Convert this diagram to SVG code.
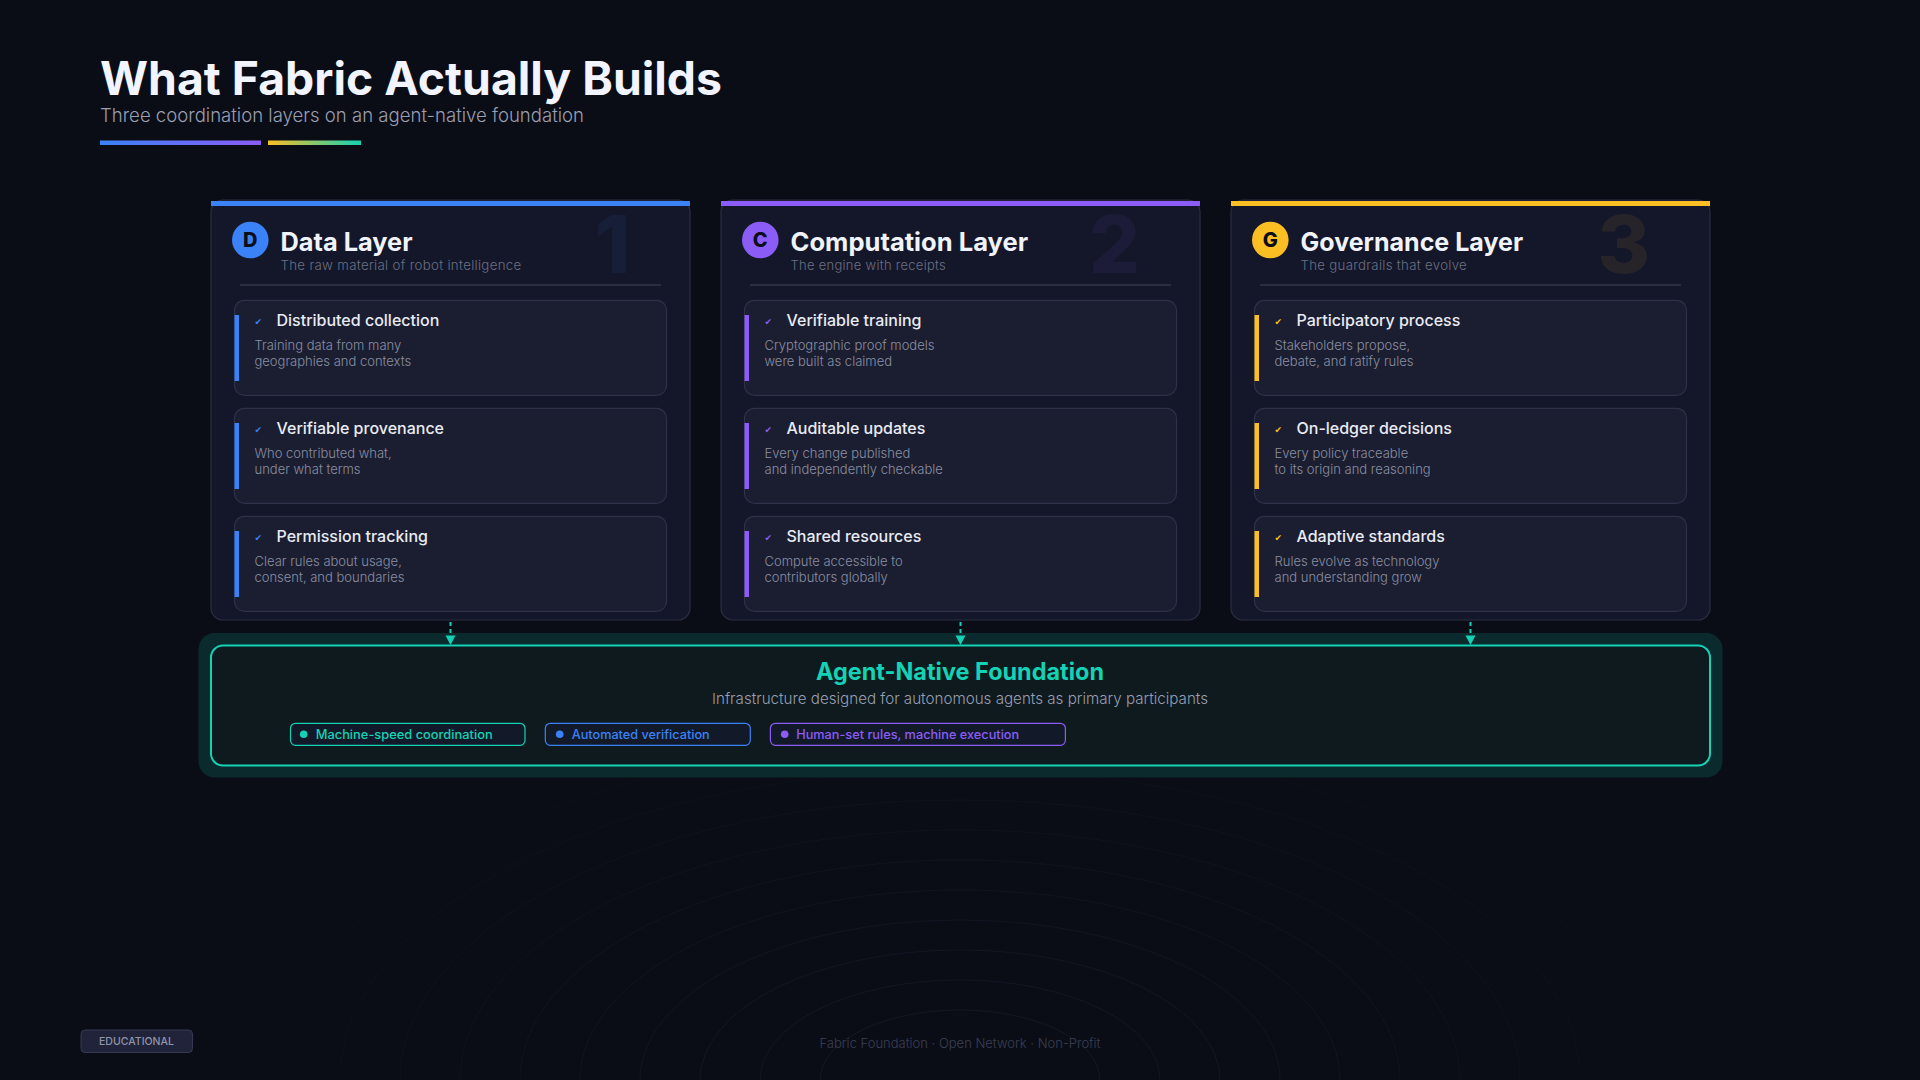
<svg xmlns="http://www.w3.org/2000/svg" width="1920" height="1080" viewBox="0 0 1920 1080">
<defs>
<style>
.f{font-family:Inter,"Liberation Sans",sans-serif}
.card{fill:#141729;stroke:#2a2e42;stroke-width:1.2}
.item{fill:#1b1e31;stroke:#2e3147;stroke-width:1.2}
.ctitle{font-family:Inter,"Liberation Sans",sans-serif;font-weight:700;font-size:25.5px;fill:#f1f3fb}
.csub{font-family:Inter,"Liberation Sans",sans-serif;font-weight:300;font-size:13px;fill:#6b6f84;letter-spacing:0.3px}
.digit{font-family:Inter,"Liberation Sans",sans-serif;font-weight:800;font-size:80px;text-anchor:end}
.letter{font-family:Inter,"Liberation Sans",sans-serif;font-weight:800;font-size:20px;fill:#0b0e18;text-anchor:middle}
.ititle{font-family:Inter,"Liberation Sans",sans-serif;font-weight:500;font-size:16px;fill:#e9ebf3}
.idesc{font-family:Inter,"Liberation Sans",sans-serif;font-weight:300;font-size:13px;fill:#8a8ea2}
.chk{font-family:"DejaVu Sans",sans-serif;font-size:9px;text-anchor:middle}
.div{stroke:#33364a;stroke-width:1.6}
.ring{fill:none;stroke:#151927}
.conn{stroke:#14d2b5;stroke-width:2;stroke-dasharray:4 3;fill:none}
.pilltxt{font-family:Inter,"Liberation Sans",sans-serif;font-weight:500;font-size:12.5px}
</style>
<linearGradient id="g1" x1="0" y1="0" x2="1" y2="0"><stop offset="0" stop-color="#3b82f6"/><stop offset="1" stop-color="#8b5cf6"/></linearGradient>
<linearGradient id="g2" x1="0" y1="0" x2="1" y2="0"><stop offset="0" stop-color="#fbbf24"/><stop offset="1" stop-color="#14d2b5"/></linearGradient>
</defs>
<rect width="1920" height="1080" fill="#0a0d16"/>
<g id="rings">
<ellipse class="ring" cx="960" cy="1080" rx="140" ry="70" stroke-opacity="0.9"/>
<ellipse class="ring" cx="960" cy="1080" rx="200" ry="100" stroke-opacity="0.85"/>
<ellipse class="ring" cx="960" cy="1080" rx="260" ry="130" stroke-opacity="0.8"/>
<ellipse class="ring" cx="960" cy="1080" rx="320" ry="160" stroke-opacity="0.72"/>
<ellipse class="ring" cx="960" cy="1080" rx="380" ry="190" stroke-opacity="0.64"/>
<ellipse class="ring" cx="960" cy="1080" rx="440" ry="220" stroke-opacity="0.55"/>
<ellipse class="ring" cx="960" cy="1080" rx="500" ry="250" stroke-opacity="0.46"/>
<ellipse class="ring" cx="960" cy="1080" rx="560" ry="280" stroke-opacity="0.38"/>
<ellipse class="ring" cx="960" cy="1080" rx="620" ry="310" stroke-opacity="0.3"/>
<ellipse class="ring" cx="960" cy="1080" rx="680" ry="340" stroke-opacity="0.22"/>
<ellipse class="ring" cx="960" cy="1080" rx="740" ry="370" stroke-opacity="0.15"/>
</g>
<g id="header">
<text class="f" x="100" y="94.5" font-size="46" font-weight="700" fill="#f2f4ff" textLength="622" lengthAdjust="spacingAndGlyphs">What Fabric Actually Builds</text>
<text class="f" x="100" y="121.5" font-size="18.5" font-weight="300" fill="#9a9eb2" textLength="484" lengthAdjust="spacingAndGlyphs">Three coordination layers on an agent-native foundation</text>
<rect x="100" y="140.5" width="161" height="4.5" fill="url(#g1)"/>
<rect x="268" y="140.5" width="93" height="4.5" fill="url(#g2)"/>
</g>
<g id="card-data" transform="translate(211,0)">
<rect class="card" x="0" y="200" width="479" height="420" rx="12"/>
<rect x="0" y="201" width="479" height="5" fill="#3b82f6"/>
<text class="digit" x="419" y="273" fill="#3b82f6" fill-opacity="0.08">1</text>
<circle cx="39.3" cy="240" r="18.3" fill="#3b82f6"/>
<text class="letter" x="39.3" y="247">D</text>
<text class="ctitle" x="69.5" y="251" textLength="132" lengthAdjust="spacingAndGlyphs">Data Layer</text>
<text class="csub" x="69.5" y="270" textLength="241" lengthAdjust="spacingAndGlyphs">The raw material of robot intelligence</text>
<line class="div" x1="29" y1="285" x2="450" y2="285"/>
<rect class="item" x="23.5" y="300.3" width="432" height="95" rx="10"/>
<rect x="23.5" y="315" width="4.5" height="66" fill="#3b82f6"/>
<text class="chk" x="47.3" y="324.5" fill="#3b82f6">✔</text>
<text class="ititle" x="65.5" y="326">Distributed collection</text>
<text class="idesc" x="43.5" y="350">Training data from many</text>
<text class="idesc" x="43.5" y="366">geographies and contexts</text>
<rect class="item" x="23.5" y="408.3" width="432" height="95" rx="10"/>
<rect x="23.5" y="423" width="4.5" height="66" fill="#3b82f6"/>
<text class="chk" x="47.3" y="432.5" fill="#3b82f6">✔</text>
<text class="ititle" x="65.5" y="434">Verifiable provenance</text>
<text class="idesc" x="43.5" y="458">Who contributed what,</text>
<text class="idesc" x="43.5" y="474">under what terms</text>
<rect class="item" x="23.5" y="516.3" width="432" height="95" rx="10"/>
<rect x="23.5" y="531" width="4.5" height="66" fill="#3b82f6"/>
<text class="chk" x="47.3" y="540.5" fill="#3b82f6">✔</text>
<text class="ititle" x="65.5" y="542">Permission tracking</text>
<text class="idesc" x="43.5" y="566">Clear rules about usage,</text>
<text class="idesc" x="43.5" y="582">consent, and boundaries</text>
</g>
<g id="card-computation" transform="translate(721,0)">
<rect class="card" x="0" y="200" width="479" height="420" rx="12"/>
<rect x="0" y="201" width="479" height="5" fill="#8b5cf6"/>
<text class="digit" x="419" y="273" fill="#8b5cf6" fill-opacity="0.08">2</text>
<circle cx="39.3" cy="240" r="18.3" fill="#8b5cf6"/>
<text class="letter" x="39.3" y="247">C</text>
<text class="ctitle" x="69.5" y="251" textLength="237.6" lengthAdjust="spacingAndGlyphs">Computation Layer</text>
<text class="csub" x="69.5" y="270" textLength="155.6" lengthAdjust="spacingAndGlyphs">The engine with receipts</text>
<line class="div" x1="29" y1="285" x2="450" y2="285"/>
<rect class="item" x="23.5" y="300.3" width="432" height="95" rx="10"/>
<rect x="23.5" y="315" width="4.5" height="66" fill="#8b5cf6"/>
<text class="chk" x="47.3" y="324.5" fill="#8b5cf6">✔</text>
<text class="ititle" x="65.5" y="326">Verifiable training</text>
<text class="idesc" x="43.5" y="350">Cryptographic proof models</text>
<text class="idesc" x="43.5" y="366">were built as claimed</text>
<rect class="item" x="23.5" y="408.3" width="432" height="95" rx="10"/>
<rect x="23.5" y="423" width="4.5" height="66" fill="#8b5cf6"/>
<text class="chk" x="47.3" y="432.5" fill="#8b5cf6">✔</text>
<text class="ititle" x="65.5" y="434">Auditable updates</text>
<text class="idesc" x="43.5" y="458">Every change published</text>
<text class="idesc" x="43.5" y="474">and independently checkable</text>
<rect class="item" x="23.5" y="516.3" width="432" height="95" rx="10"/>
<rect x="23.5" y="531" width="4.5" height="66" fill="#8b5cf6"/>
<text class="chk" x="47.3" y="540.5" fill="#8b5cf6">✔</text>
<text class="ititle" x="65.5" y="542">Shared resources</text>
<text class="idesc" x="43.5" y="566">Compute accessible to</text>
<text class="idesc" x="43.5" y="582">contributors globally</text>
</g>
<g id="card-governance" transform="translate(1231,0)">
<rect class="card" x="0" y="200" width="479" height="420" rx="12"/>
<rect x="0" y="201" width="479" height="5" fill="#fbbf24"/>
<text class="digit" x="419" y="273" fill="#fbbf24" fill-opacity="0.08">3</text>
<circle cx="39.3" cy="240" r="18.3" fill="#fbbf24"/>
<text class="letter" x="39.3" y="247">G</text>
<text class="ctitle" x="69.5" y="251" textLength="222.6" lengthAdjust="spacingAndGlyphs">Governance Layer</text>
<text class="csub" x="69.5" y="270" textLength="166.6" lengthAdjust="spacingAndGlyphs">The guardrails that evolve</text>
<line class="div" x1="29" y1="285" x2="450" y2="285"/>
<rect class="item" x="23.5" y="300.3" width="432" height="95" rx="10"/>
<rect x="23.5" y="315" width="4.5" height="66" fill="#fbbf24"/>
<text class="chk" x="47.3" y="324.5" fill="#fbbf24">✔</text>
<text class="ititle" x="65.5" y="326">Participatory process</text>
<text class="idesc" x="43.5" y="350">Stakeholders propose,</text>
<text class="idesc" x="43.5" y="366">debate, and ratify rules</text>
<rect class="item" x="23.5" y="408.3" width="432" height="95" rx="10"/>
<rect x="23.5" y="423" width="4.5" height="66" fill="#fbbf24"/>
<text class="chk" x="47.3" y="432.5" fill="#fbbf24">✔</text>
<text class="ititle" x="65.5" y="434">On-ledger decisions</text>
<text class="idesc" x="43.5" y="458">Every policy traceable</text>
<text class="idesc" x="43.5" y="474">to its origin and reasoning</text>
<rect class="item" x="23.5" y="516.3" width="432" height="95" rx="10"/>
<rect x="23.5" y="531" width="4.5" height="66" fill="#fbbf24"/>
<text class="chk" x="47.3" y="540.5" fill="#fbbf24">✔</text>
<text class="ititle" x="65.5" y="542">Adaptive standards</text>
<text class="idesc" x="43.5" y="566">Rules evolve as technology</text>
<text class="idesc" x="43.5" y="582">and understanding grow</text>
</g>
<g id="foundation">
<rect x="198.5" y="633" width="1524" height="144.5" rx="16" fill="#0a2a2d"/>
<rect x="211" y="645.5" width="1499" height="120" rx="12" fill="#0e1a1e" stroke="#14d2b5" stroke-width="2"/>
<text class="f" x="960" y="680" font-size="24" font-weight="700" fill="#14d2b5" text-anchor="middle" textLength="288" lengthAdjust="spacingAndGlyphs">Agent-Native Foundation</text>
<text class="f" x="960" y="703.5" font-size="15" font-weight="300" fill="#9a9eb2" text-anchor="middle" textLength="496" lengthAdjust="spacingAndGlyphs">Infrastructure designed for autonomous agents as primary participants</text>
<rect x="290.5" y="723.3" width="234.5" height="22" rx="5" fill="#121a29" stroke="#14d2b5" stroke-width="1.2"/>
<circle cx="303.7" cy="734.3" r="3.8" fill="#14d2b5"/>
<text class="pilltxt" x="315.7" y="738.5" fill="#14d2b5" textLength="177" lengthAdjust="spacingAndGlyphs">Machine-speed coordination</text>
<rect x="545.3" y="723.3" width="205" height="22" rx="5" fill="#121a29" stroke="#3b82f6" stroke-width="1.2"/>
<circle cx="559.7" cy="734.3" r="3.8" fill="#3b82f6"/>
<text class="pilltxt" x="571.7" y="738.5" fill="#3b82f6" textLength="138" lengthAdjust="spacingAndGlyphs">Automated verification</text>
<rect x="770.4" y="723.3" width="295" height="22" rx="5" fill="#121a29" stroke="#8b5cf6" stroke-width="1.2"/>
<circle cx="784.7" cy="734.3" r="3.8" fill="#8b5cf6"/>
<text class="pilltxt" x="796.2" y="738.5" fill="#8b5cf6" textLength="223" lengthAdjust="spacingAndGlyphs">Human-set rules, machine execution</text>
</g>
<g id="connectors">
<line class="conn" x1="450.5" y1="622" x2="450.5" y2="637"/>
<polygon points="445.5,635.5 455.5,635.5 450.5,645" fill="#14d2b5"/>
<line class="conn" x1="960.5" y1="622" x2="960.5" y2="637"/>
<polygon points="955.5,635.5 965.5,635.5 960.5,645" fill="#14d2b5"/>
<line class="conn" x1="1470.5" y1="622" x2="1470.5" y2="637"/>
<polygon points="1465.5,635.5 1475.5,635.5 1470.5,645" fill="#14d2b5"/>
</g>
<g id="footer">
<rect x="81" y="1030" width="111.5" height="22.5" rx="4" fill="#20233a" stroke="#363a50" stroke-width="1"/>
<text class="f" x="136.5" y="1045" font-size="11" font-weight="500" fill="#9094a8" text-anchor="middle" textLength="75" lengthAdjust="spacingAndGlyphs">EDUCATIONAL</text>
<text class="f" x="960" y="1048" font-size="13" font-weight="300" fill="#3b3f55" text-anchor="middle" textLength="281" lengthAdjust="spacingAndGlyphs">Fabric Foundation · Open Network · Non-Profit</text>
</g>
</svg>
